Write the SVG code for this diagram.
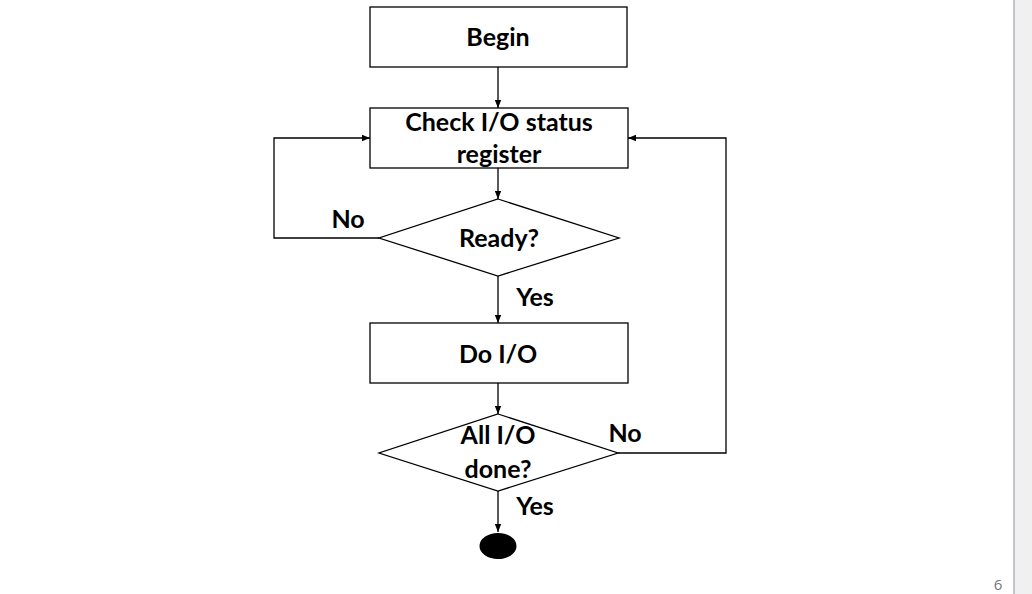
<svg xmlns="http://www.w3.org/2000/svg" width="1032" height="594" viewBox="0 0 1032 594">
<style>
.box{fill:#fff;stroke:#000;stroke-width:1.3}
.t{font-family:Lato,"Open Sans","Liberation Sans",sans-serif;font-weight:bold;font-size:25px;fill:#000;text-anchor:middle}
.c{fill:none;stroke:#000;stroke-width:1.3}
</style>
<defs>
<marker id="ah" viewBox="0 0 10 10" refX="10" refY="5" markerWidth="8" markerHeight="8" markerUnits="userSpaceOnUse" orient="auto">
<path d="M0,1 L10,5 L0,9 Z" fill="#000"/>
</marker>
</defs>
<rect x="0" y="0" width="1032" height="594" fill="#fff"/>
<rect x="1015" y="0" width="17" height="594" fill="#f0f0f0"/>
<rect x="1013" y="0" width="2" height="594" fill="#c2c6cc"/>
<text x="998" y="590" font-family="'Open Sans','Liberation Sans',sans-serif" font-size="15" fill="#767676" text-anchor="middle">6</text>
<g id="connectors">
<line class="c" x1="498" y1="67" x2="498" y2="108" marker-end="url(#ah)"/>
<line class="c" x1="498" y1="168" x2="498" y2="199" marker-end="url(#ah)"/>
<line class="c" x1="498" y1="276" x2="498" y2="323" marker-end="url(#ah)"/>
<line class="c" x1="498" y1="383" x2="498" y2="414" marker-end="url(#ah)"/>
<line class="c" x1="498" y1="491" x2="498" y2="532" marker-end="url(#ah)"/>
<polyline class="c" points="379,238 274,238 274,138 370,138" marker-end="url(#ah)"/>
<polyline class="c" points="618,453 726,453 726,138 628,138" marker-end="url(#ah)"/>
<text class="t" x="348" y="228">No</text>
<text class="t" x="535" y="306">Yes</text>
<text class="t" x="625" y="442">No</text>
<text class="t" x="535" y="515">Yes</text>
</g>
<g id="begin">
<rect class="box" x="370" y="7" width="257" height="60"/>
<text class="t" x="498" y="46">Begin</text>
</g>
<g id="check">
<rect class="box" x="370" y="108" width="258" height="60"/>
<text class="t" x="499" y="131">Check I/O status</text>
<text class="t" x="499" y="163">register</text>
</g>
<g id="ready">
<polygon class="box" points="498,199 619,238 498,276 379,238"/>
<text class="t" x="499" y="247">Ready?</text>
</g>
<g id="doio">
<rect class="box" x="370" y="323" width="258" height="60"/>
<text class="t" x="498" y="363">Do I/O</text>
</g>
<g id="alldone">
<polygon class="box" points="498,414 618,453 498,491 379,453"/>
<text class="t" x="498" y="444">All I/O</text>
<text class="t" x="498" y="478">done?</text>
</g>
<g id="end">
<ellipse cx="498" cy="546" rx="18.5" ry="13" fill="#000"/>
</g>
</svg>
